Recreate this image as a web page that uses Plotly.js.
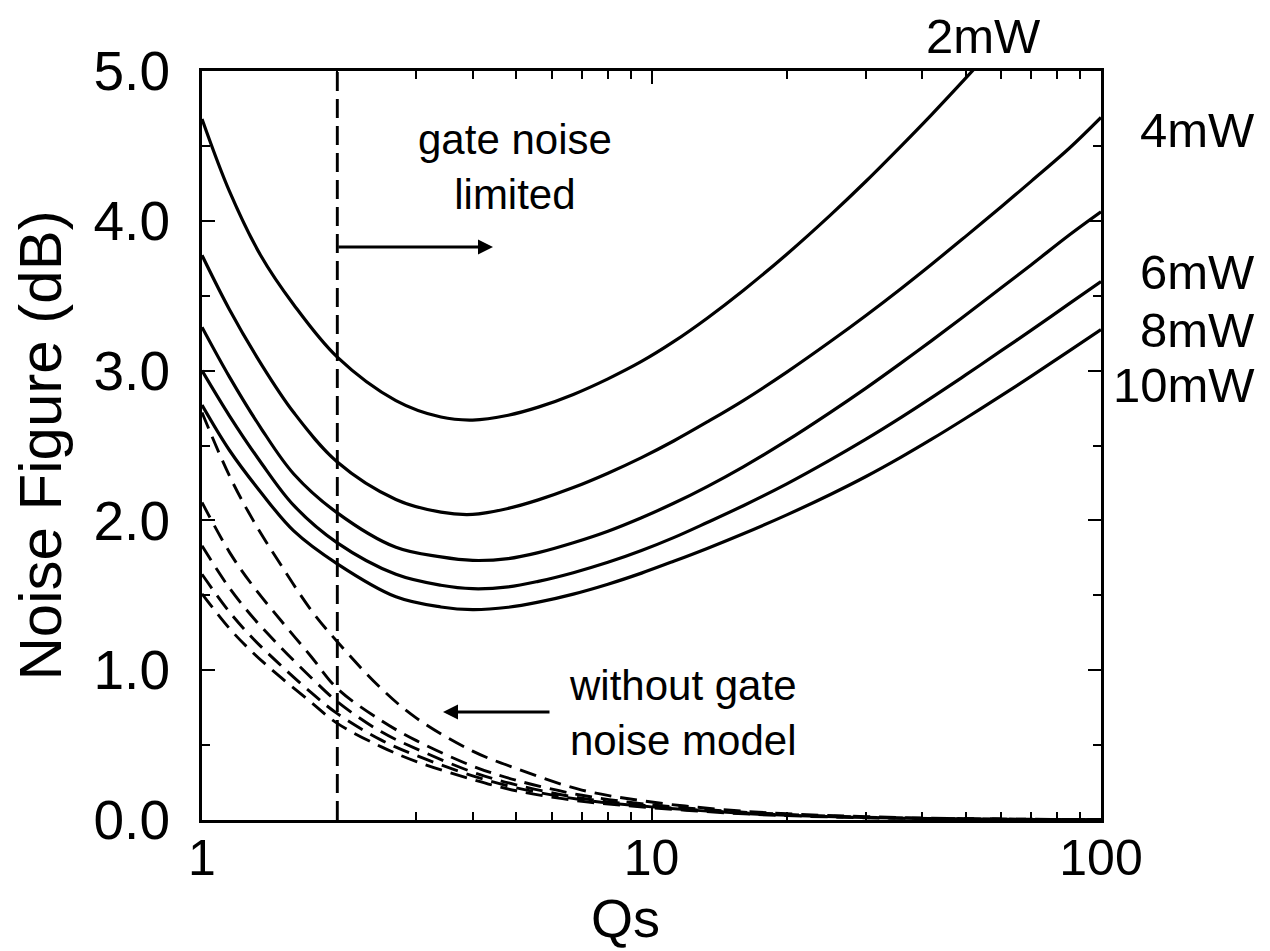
<!DOCTYPE html>
<html>
<head>
<meta charset="utf-8">
<script src="https://cdn.plot.ly/plotly-3.0.1.min.js"></script>
<style>
  html, body { margin: 0; padding: 0; background: #ffffff; }
  #chart { width: 1270px; height: 951px; }
</style>
</head>
<body>
<div id="chart"></div>
<script>
// ---- data ----
// Source quality factor Qs for the solid curves (with gate noise)
const qSolid = [1, 1.15, 1.35, 1.6, 2, 2.7, 3.4, 4, 4.8, 5.6, 6.7, 8, 9.5, 11.2, 13.3, 16, 20, 25, 30, 36, 42, 50, 60, 70, 85, 100];
const nf2mW  = [4.68, 4.20, 3.77, 3.44, 3.09, 2.80, 2.69, 2.67, 2.702, 2.756, 2.841, 2.945, 3.061, 3.193, 3.35, 3.535, 3.777, 4.038, 4.264, 4.502, 4.709, 4.952, 5.213, null, null, null];
const nf4mW  = [3.77, 3.41, 3.05, 2.72, 2.39, 2.14, 2.055, 2.04, 2.08, 2.137, 2.219, 2.315, 2.419, 2.53, 2.657, 2.80, 2.99, 3.194, 3.368, 3.55, 3.71, 3.896, 4.094, 4.265, 4.484, 4.69];
const nf6mW  = [3.29, 2.96, 2.62, 2.31, 2.05, 1.82, 1.756, 1.733, 1.745, 1.785, 1.851, 1.928, 2.018, 2.114, 2.226, 2.358, 2.532, 2.721, 2.883, 3.053, 3.20, 3.371, 3.553, 3.707, 3.905, 4.06];
const nf8mW  = [3.00, 2.70, 2.39, 2.10, 1.85, 1.64, 1.567, 1.544, 1.556, 1.593, 1.651, 1.72, 1.799, 1.885, 1.986, 2.098, 2.244, 2.404, 2.542, 2.689, 2.819, 2.971, 3.133, 3.27, 3.447, 3.595];
const nf10mW = [2.77, 2.47, 2.19, 1.93, 1.71, 1.49, 1.422, 1.404, 1.42, 1.454, 1.508, 1.574, 1.648, 1.727, 1.813, 1.911, 2.037, 2.173, 2.293, 2.424, 2.542, 2.682, 2.833, 2.963, 3.132, 3.273];

// Dashed curves (without gate noise model)
const qDashed = [1, 1.15, 1.3, 1.5, 1.75, 2, 2.5, 3, 4, 5, 7, 10, 15, 20, 30, 50, 100];
const nf2mWNoGate  = [2.72, 2.30, 2.00, 1.70, 1.40, 1.19, 0.88, 0.68, 0.46, 0.344, 0.20, 0.12, 0.065, 0.042, 0.022, 0.009, 0.003];
const nf4mWNoGate  = [2.12, 1.79, 1.56, 1.33, 1.09, 0.878, 0.665, 0.53, 0.36, 0.265, 0.165, 0.102, 0.058, 0.037, 0.019, 0.008, 0.0025];
const nf6mWNoGate  = [1.83, 1.55, 1.35, 1.15, 0.95, 0.79, 0.59, 0.475, 0.32, 0.235, 0.145, 0.093, 0.052, 0.033, 0.017, 0.007, 0.002];
const nf8mWNoGate  = [1.64, 1.39, 1.21, 1.03, 0.85, 0.71, 0.535, 0.43, 0.295, 0.215, 0.135, 0.088, 0.049, 0.031, 0.016, 0.006, 0.002];
const nf10mWNoGate = [1.51, 1.28, 1.115, 0.95, 0.785, 0.645, 0.49, 0.39, 0.27, 0.195, 0.125, 0.082, 0.046, 0.029, 0.015, 0.006, 0.002];

// Vertical boundary of the gate-noise-limited region
const limitQ = [2, 2];
const limitNF = [0, 5];

const powerLabels = ['2mW', '4mW', '6mW', '8mW', '10mW'];
const xTickVals = [1, 10, 100];
const xTickText = ['1', '10', '100'];
const xMinorVals = [2, 3, 4, 5, 6, 7, 8, 9, 20, 30, 40, 50, 60, 70, 80, 90];

// ---- traces ----
const FONT = 'Liberation Sans, Arial, Helvetica, sans-serif';
const solidSets = [nf2mW, nf4mW, nf6mW, nf8mW, nf10mW];
const dashedSets = [nf2mWNoGate, nf4mWNoGate, nf6mWNoGate, nf8mWNoGate, nf10mWNoGate];

const traces = [];
solidSets.forEach((ys, i) => {
  traces.push({
    type: 'scatter', mode: 'lines', x: qSolid, y: ys, name: powerLabels[i],
    line: { color: '#000000', width: 3.2, shape: 'spline', smoothing: 1 },
    connectgaps: false, hoverinfo: 'skip'
  });
});
dashedSets.forEach((ys, i) => {
  traces.push({
    type: 'scatter', mode: 'lines', x: qDashed, y: ys, name: powerLabels[i] + ' (no gate noise)',
    line: { color: '#000000', width: 2.9, shape: 'spline', smoothing: 1, dash: '17px,9px' },
    hoverinfo: 'skip'
  });
});
traces.push({
  type: 'scatter', mode: 'lines', x: limitQ, y: limitNF, name: 'limit',
  line: { color: '#000000', width: 2.9, dash: '19px,8px' }, hoverinfo: 'skip'
});

// helpers: pixel -> paper
const L = 202, R = 1101, T = 71, B = 820;
const px = v => (v - L) / (R - L);
const py = v => (B - v) / (B - T);

const annFont = { family: FONT, size: 42, color: '#000000' };
const labFont = { family: FONT, size: 49, color: '#000000' };

const annotations = [
  { xref: 'paper', yref: 'paper', x: px(515), y: py(167), text: 'gate noise<br>limited',
    showarrow: false, xanchor: 'center', yanchor: 'middle', align: 'center', font: annFont },
  { xref: 'paper', yref: 'paper', x: px(493), y: py(247), ax: -156, ay: 0, axref: 'pixel', ayref: 'pixel',
    text: '', showarrow: true, arrowhead: 2, arrowsize: 1.0, arrowwidth: 3, arrowcolor: '#000000' },
  { xref: 'paper', yref: 'paper', x: px(567), y: py(713), text: 'without gate<br>noise model',
    showarrow: false, xanchor: 'left', yanchor: 'middle', align: 'left', font: annFont },
  { xref: 'paper', yref: 'paper', x: px(443), y: py(712), ax: 108, ay: 0, axref: 'pixel', ayref: 'pixel',
    text: '', showarrow: true, arrowhead: 2, arrowsize: 1.0, arrowwidth: 3, arrowcolor: '#000000' },
  { xref: 'paper', yref: 'paper', x: px(983), y: py(36), text: powerLabels[0],
    showarrow: false, xanchor: 'center', yanchor: 'middle', font: labFont },
  { xref: 'paper', yref: 'paper', x: px(1257), y: py(130), text: powerLabels[1],
    showarrow: false, xanchor: 'right', yanchor: 'middle', font: labFont },
  { xref: 'paper', yref: 'paper', x: px(1257), y: py(272), text: powerLabels[2],
    showarrow: false, xanchor: 'right', yanchor: 'middle', font: labFont },
  { xref: 'paper', yref: 'paper', x: px(1257), y: py(330), text: powerLabels[3],
    showarrow: false, xanchor: 'right', yanchor: 'middle', font: labFont },
  { xref: 'paper', yref: 'paper', x: px(1257), y: py(385), text: powerLabels[4],
    showarrow: false, xanchor: 'right', yanchor: 'middle', font: labFont },
  // axis titles
  { xref: 'paper', yref: 'paper', x: px(40), y: 0.5, text: 'Noise Figure (dB)', textangle: -90,
    showarrow: false, xanchor: 'center', yanchor: 'middle', font: { family: FONT, size: 60, color: '#000000' } },
  { xref: 'paper', yref: 'paper', x: px(625), y: py(950), text: 'Qs',
    showarrow: false, xanchor: 'center', yanchor: 'bottom', font: { family: FONT, size: 54, color: '#000000' } }
];

const layout = {
  width: 1270, height: 951,
  margin: { l: L, r: 1270 - R, t: T, b: 951 - B, pad: 0 },
  paper_bgcolor: '#ffffff', plot_bgcolor: '#ffffff',
  showlegend: false,
  font: { family: FONT, color: '#000000' },
  xaxis: {
    type: 'log', range: [0, 2], autorange: false,
    tickmode: 'array', tickvals: xTickVals, ticktext: xTickText,
    ticks: 'inside', ticklen: 13, tickwidth: 2, tickcolor: '#000000',
    minor: { tickmode: 'array', tickvals: xMinorVals, ticks: 'inside', ticklen: 8, tickwidth: 2, tickcolor: '#000000', showgrid: false },
    showline: true, linewidth: 3, linecolor: '#000000', mirror: 'ticks',
    showgrid: false, zeroline: false,
    ticklabelstandoff: -8,
    tickfont: { family: FONT, size: 50, color: '#000000' }
  },
  yaxis: {
    range: [0, 5], autorange: false,
    tickmode: 'linear', tick0: 0, dtick: 1, tickformat: '.1f',
    ticks: 'inside', ticklen: 13, tickwidth: 2, tickcolor: '#000000',
    minor: { dtick: 0.5, ticks: 'inside', ticklen: 8, tickwidth: 2, tickcolor: '#000000', showgrid: false },
    showline: true, linewidth: 3, linecolor: '#000000', mirror: 'ticks',
    showgrid: false, zeroline: false,
    ticklabelstandoff: 18,
    tickfont: { family: FONT, size: 55, color: '#000000' }
  },
  annotations: annotations
};

Plotly.newPlot('chart', traces, layout, { staticPlot: true, displayModeBar: false });
</script>
</body>
</html>
